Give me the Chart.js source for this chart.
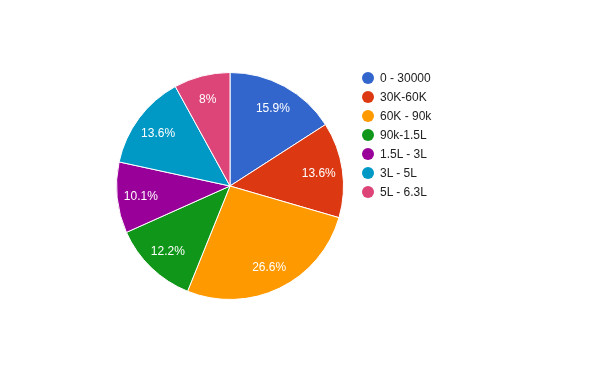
<!DOCTYPE html>
<html>
<head>
<meta charset="utf-8">
<script src="https://cdn.jsdelivr.net/npm/chart.js@4.4.0/dist/chart.umd.min.js"></script>
<style>
  html, body { margin: 0; padding: 0; background: #fff; }
  #wrap { position: relative; width: 600px; height: 371px; }
  #legend { position: absolute; left: 362px; top: 69px; font: 12px Arial, "Liberation Sans", sans-serif; color: #222; }
  #legend .item { height: 19px; line-height: 19px; white-space: nowrap; }
  #legend .dot { display: inline-block; width: 12px; height: 12px; border-radius: 50%; vertical-align: -2px; margin-right: 6px; }
</style>
</head>
<body>
<div id="wrap">
  <canvas id="pieChart" width="600" height="371"></canvas>
  <div id="legend"></div>
</div>
<script>
const categories = ["0 - 30000", "30K-60K", "60K - 90k", "90k-1.5L", "1.5L - 3L", "3L - 5L", "5L - 6.3L"];
const percents = [15.9, 13.6, 26.6, 12.2, 10.1, 13.6, 8];
const percentLabels = ["15.9%", "13.6%", "26.6%", "12.2%", "10.1%", "13.6%", "8%"];
const colors = ["#3366cc", "#dc3912", "#ff9900", "#109618", "#990099", "#0099c6", "#dd4477"];

// slice labels, placed at ~78% of the radius like the original
const sliceLabels = {
  id: "sliceLabels",
  afterDatasetsDraw(chart) {
    const ctx = chart.ctx;
    const meta = chart.getDatasetMeta(0);
    ctx.save();
    ctx.font = "12px Arial, 'Liberation Sans', sans-serif";
    ctx.fillStyle = "#ffffff";
    ctx.textAlign = "center";
    ctx.textBaseline = "middle";
    meta.data.forEach((arc, i) => {
      const p = arc.getProps(["x", "y", "startAngle", "endAngle", "outerRadius"], true);
      const mid = (p.startAngle + p.endAngle) / 2;
      const r = p.outerRadius * 0.79;
      ctx.fillText(percentLabels[i], p.x + Math.cos(mid) * r, p.y + 1 + Math.sin(mid) * r);
    });
    ctx.restore();
  },
};

const ctx = document.getElementById("pieChart").getContext("2d");
const pieChart = new Chart(ctx, {
  type: "pie",
  data: {
    labels: categories,
    datasets: [
      {
        data: percents,
        backgroundColor: colors,
        borderColor: "#ffffff",
        borderWidth: 1,
      },
    ],
  },
  options: {
    responsive: false,
    animation: false,
    layout: { padding: { left: 116, right: 256, top: 72, bottom: 71 } },
    plugins: {
      legend: { display: false },
      tooltip: { enabled: false },
    },
  },
  plugins: [sliceLabels],
});

const legend = document.getElementById("legend");
categories.forEach((name, i) => {
  const item = document.createElement("div");
  item.className = "item";
  item.innerHTML = '<span class="dot" style="background:' + colors[i] + '"></span>' + name;
  legend.appendChild(item);
});
</script>
</body>
</html>
